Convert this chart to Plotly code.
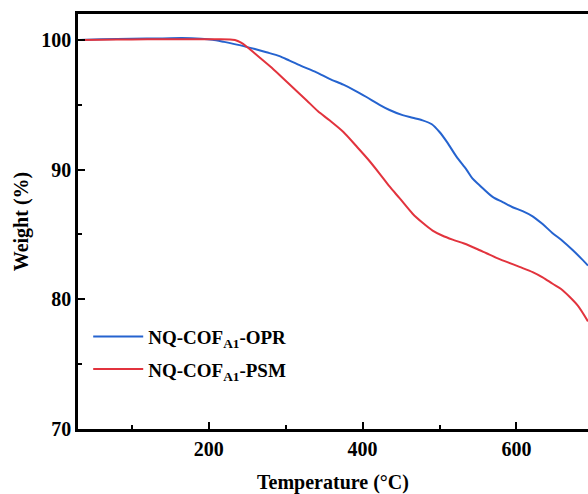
import plotly.graph_objects as go

# Temperature (°C) and weight (%)
opr_T = [32, 60, 100, 140, 165, 190, 205, 220, 240, 260, 275, 292, 305, 320, 340, 357, 375, 390,
         405, 422, 435, 452, 465, 478, 490, 500, 510, 522, 535, 543, 552, 569, 582, 595, 608, 621,
         634, 647, 660, 673, 685, 693]
opr_W = [100.0, 100.05, 100.1, 100.12, 100.15, 100.1, 100.02, 99.85, 99.6, 99.3, 99.05, 98.75,
         98.4, 98.0, 97.5, 97.0, 96.55, 96.1, 95.6, 95.0, 94.6, 94.2, 94.0, 93.8, 93.5, 92.9,
         92.1, 91.0, 90.0, 89.3, 88.8, 87.9, 87.5, 87.1, 86.8, 86.4, 85.8, 85.1, 84.5, 83.8,
         83.1, 82.6]

psm_T = [32, 60, 100, 140, 180, 210, 234, 242, 249, 260, 270, 280, 292, 310, 327, 342, 357, 375,
         392, 407, 422, 435, 448, 465, 478, 491, 504, 517, 532, 548, 561, 574, 589, 604, 621,
         634, 647, 658, 669, 680, 693]
psm_W = [100.0, 100.02, 100.04, 100.05, 100.05, 100.05, 100.0, 99.8, 99.5, 98.95, 98.45, 97.95,
         97.3, 96.3, 95.35, 94.5, 93.8, 92.9, 91.8, 90.8, 89.7, 88.7, 87.8, 86.6, 85.9, 85.3,
         84.9, 84.6, 84.3, 83.9, 83.55, 83.2, 82.85, 82.5, 82.1, 81.7, 81.2, 80.8, 80.2, 79.5,
         78.3]

series_names = ["NQ-COF<sub>A1</sub>-OPR", "NQ-COF<sub>A1</sub>-PSM"]
x_ticks = [200, 400, 600]
y_ticks = [70, 80, 90, 100]

FONT = "Liberation Serif, Times New Roman, serif"

fig = go.Figure()
fig.add_trace(go.Scatter(x=opr_T, y=opr_W, mode="lines", name=series_names[0], legendgroup="opr",
                         line=dict(color="#2563CF", width=2, shape="spline", smoothing=0.8)))
fig.add_trace(go.Scatter(x=psm_T, y=psm_W, mode="lines", name=series_names[1], legendgroup="psm",
                         line=dict(color="#E2333D", width=2, shape="spline", smoothing=0.8)))

axis_common = dict(showline=True, linecolor="black", linewidth=2.5, ticks="inside",
                   ticklen=7, tickwidth=2, tickcolor="black", showgrid=False, zeroline=False,
                   tickfont=dict(family=FONT, size=20, color="black", weight="bold"))

fig.update_xaxes(range=[30, 693], tickvals=x_ticks, mirror=True,
                 minor=dict(ticks="inside", ticklen=4, tickwidth=2, tickcolor="black", dtick=100, tick0=0),
                 title=dict(text="Temperature (°C)", standoff=18,
                            font=dict(family=FONT, size=20, color="black", weight="bold")),
                 **axis_common)
fig.update_yaxes(range=[70, 102], tickvals=y_ticks, mirror=False,
                 minor=dict(ticks="inside", ticklen=4, tickwidth=2, tickcolor="black", dtick=5, tick0=70),
                 title=dict(text="Weight (%)", standoff=8,
                            font=dict(family=FONT, size=20, color="black", weight="bold")),
                 **axis_common)

fig.update_layout(
    width=588, height=494,
    margin=dict(l=78, r=0, t=14, b=65),
    plot_bgcolor="white", paper_bgcolor="white",
    font=dict(family=FONT, color="black"),
    legend=dict(x=0.02, y=0.183, xanchor="left", yanchor="middle", bgcolor="rgba(0,0,0,0)",
                font=dict(family=FONT, size=19, color="black", weight="bold"),
                itemwidth=50, tracegroupgap=5),
)

fig.write_html("out.html", config={"displayModeBar": False},
               post_script="document.body.style.margin='0';document.body.style.overflow='hidden';")
